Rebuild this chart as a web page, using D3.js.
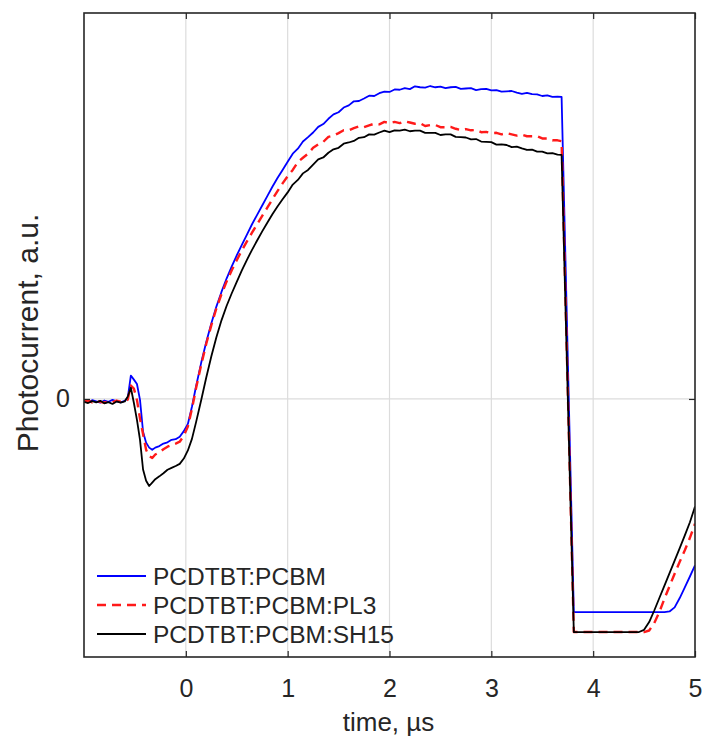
<!DOCTYPE html>
<html>
<head>
<meta charset="utf-8">
<script src="https://cdn.jsdelivr.net/npm/d3@7"></script>
<style>
  body { margin: 0; background: #fff; }
  svg { display: block; }
  text { font-family: "Liberation Sans", Arial, Helvetica, sans-serif; fill: #262626; }
</style>
</head>
<body>
<svg id="chart" width="705" height="745"></svg>
<script>
// Sample times (µs), shared by the three traces
const time = [
  -1.00,-0.96,-0.92,-0.88,-0.84,-0.80,-0.76,-0.72,-0.68,-0.64,-0.60,
  -0.57,-0.54,-0.51,-0.48,-0.45,-0.42,-0.39,-0.36,-0.33,-0.30,
  -0.26,-0.22,-0.18,-0.14,-0.10,-0.06,-0.02,
  0.02,0.06,0.10,0.15,0.20,0.25,0.30,0.35,0.40,0.45,0.50,0.55,0.60,0.65,0.70,0.75,0.80,0.85,0.90,0.95,1.00,
  1.05,1.10,1.15,1.20,1.25,1.30,1.35,1.40,1.45,1.50,
  1.55,1.60,1.65,1.70,1.75,1.80,1.85,1.90,1.95,2.00,
  2.05,2.10,2.15,2.20,2.25,2.30,2.35,2.40,2.45,2.50,
  2.55,2.60,2.65,2.70,2.75,2.80,2.85,2.90,2.95,3.00,
  3.05,3.10,3.15,3.20,3.25,3.30,3.35,3.40,3.45,3.50,
  3.55,3.60,3.65,
  3.69,3.81,
  3.90,4.00,4.10,4.20,4.30,4.40,
  4.45,4.50,4.55,4.60,4.65,4.70,4.75,4.80,4.85,4.90,4.95,5.00
];

// Photocurrent, a.u.
const pcbm = [
  -0.006,-0.010,-0.004,-0.008,-0.012,-0.005,-0.009,-0.003,-0.008,-0.011,-0.006,
  0.004,0.075,0.062,0.048,-0.003,-0.105,-0.140,-0.156,-0.163,-0.156,
  -0.151,-0.143,-0.139,-0.131,-0.129,-0.121,-0.103,
  -0.080,-0.025,0.040,0.115,0.182,0.242,0.296,0.343,0.386,0.424,0.460,0.494,0.527,0.560,0.590,0.620,0.650,0.680,0.708,0.734,0.760,
  0.786,0.802,0.825,0.839,0.854,0.872,0.881,0.898,0.912,0.919,
  0.934,0.941,0.954,0.955,0.963,0.972,0.971,0.980,0.985,0.984,
  0.992,0.991,0.996,0.993,1.002,0.999,0.998,1.003,0.999,1.001,
  0.996,0.999,1.000,0.994,0.995,0.996,0.990,0.993,0.994,0.989,
  0.990,0.985,0.986,0.987,0.982,0.978,0.981,0.977,0.976,0.971,
  0.973,0.968,0.969,
  0.968,-0.683,
  -0.683,-0.683,-0.683,-0.683,-0.683,-0.683,
  -0.683,-0.683,-0.683,-0.683,-0.683,-0.683,-0.681,-0.668,-0.638,-0.604,-0.569,-0.533
];

const pl3 = [
  -0.008,-0.005,-0.011,-0.006,-0.009,-0.012,-0.007,-0.010,-0.005,-0.009,-0.007,
  -0.002,0.043,0.033,-0.003,-0.063,-0.113,-0.163,-0.183,-0.189,-0.178,
  -0.171,-0.161,-0.153,-0.148,-0.143,-0.137,-0.118,
  -0.088,-0.032,0.034,0.108,0.176,0.236,0.290,0.336,0.376,0.412,0.445,0.476,0.505,0.533,0.560,0.587,0.613,0.640,0.666,0.691,0.714,
  0.734,0.759,0.773,0.786,0.805,0.816,0.824,0.840,0.844,0.852,
  0.861,0.861,0.868,0.874,0.871,0.877,0.882,0.880,0.888,0.884,
  0.888,0.884,0.890,0.886,0.882,0.884,0.875,0.878,0.878,0.871,
  0.871,0.872,0.866,0.862,0.865,0.861,0.862,0.855,0.856,0.852,
  0.853,0.848,0.852,0.848,0.844,0.847,0.842,0.842,0.842,0.835,
  0.835,0.829,0.829,
  0.826,-0.747,
  -0.747,-0.747,-0.747,-0.747,-0.747,-0.747,
  -0.747,-0.747,-0.742,-0.718,-0.683,-0.640,-0.600,-0.560,-0.522,-0.485,-0.445,-0.400
];

const sh15 = [
  -0.009,-0.013,-0.007,-0.011,-0.006,-0.014,-0.010,-0.016,-0.008,-0.012,-0.008,
  0.008,0.036,-0.013,-0.067,-0.131,-0.226,-0.262,-0.279,-0.268,-0.257,
  -0.248,-0.238,-0.227,-0.221,-0.215,-0.208,-0.191,
  -0.165,-0.128,-0.075,-0.005,0.068,0.136,0.198,0.252,0.298,0.338,0.375,0.412,0.446,0.478,0.508,0.537,0.565,0.592,0.617,0.640,0.662,
  0.687,0.702,0.723,0.734,0.751,0.768,0.774,0.789,0.800,0.805,
  0.818,0.822,0.827,0.837,0.839,0.848,0.847,0.854,0.860,0.855,
  0.861,0.860,0.863,0.858,0.860,0.860,0.853,0.853,0.853,0.846,
  0.848,0.848,0.840,0.839,0.838,0.832,0.833,0.825,0.824,0.823,
  0.815,0.816,0.814,0.807,0.809,0.803,0.798,0.799,0.793,0.793,
  0.787,0.788,0.783,
  0.782,-0.747,
  -0.747,-0.747,-0.747,-0.747,-0.747,-0.747,
  -0.747,-0.740,-0.715,-0.678,-0.638,-0.598,-0.558,-0.518,-0.478,-0.437,-0.395,-0.345
];

const seriesNames = ["PCDTBT:PCBM", "PCDTBT:PCBM:PL3", "PCDTBT:PCBM:SH15"];
const xTicks = [0, 1, 2, 3, 4, 5];
const yTicks = [0];
const xTitle = "time, \u00b5s";
const yTitle = "Photocurrent, a.u.";

const series = [
  { name: seriesNames[0], values: pcbm, color: "#0000ff", dash: null,  width: 1.8 },
  { name: seriesNames[1], values: pl3,  color: "#ff1a1a", dash: "9,6", width: 2.4 },
  { name: seriesNames[2], values: sh15, color: "#000000", dash: null,  width: 1.8 }
];

const plot = { left: 84, right: 695, top: 13, bottom: 657 };

const x = d3.scaleLinear().domain([-1, 5]).range([plot.left, plot.right]);
const y = d3.scaleLinear().domain([-0.827, 1.237]).range([plot.bottom, plot.top]);

const svg = d3.select("#chart");

svg.append("defs").append("clipPath").attr("id", "plot-clip")
  .append("rect")
  .attr("x", plot.left).attr("y", plot.top)
  .attr("width", plot.right - plot.left).attr("height", plot.bottom - plot.top);

// grid
const grid = svg.append("g").attr("stroke", "#dcdcdc").attr("stroke-width", 1.2);
grid.selectAll("line.gx").data(xTicks.filter(t => x(t) < plot.right - 1)).join("line")
  .attr("x1", d => x(d)).attr("x2", d => x(d))
  .attr("y1", plot.top).attr("y2", plot.bottom);
grid.selectAll("line.gy").data(yTicks).join("line")
  .attr("x1", plot.left).attr("x2", plot.right)
  .attr("y1", d => y(d)).attr("y2", d => y(d));

// traces
const line = d3.line().x(d => x(d[0])).y(d => y(d[1]));
const traces = svg.append("g").attr("clip-path", "url(#plot-clip)");
series.forEach(s => {
  traces.append("path")
    .datum(d3.zip(time, s.values))
    .attr("fill", "none")
    .attr("stroke", s.color)
    .attr("stroke-width", s.width)
    .attr("stroke-dasharray", s.dash)
    .attr("stroke-linejoin", "round")
    .attr("d", line);
});

// axes (inward ticks, no domain path; box drawn separately)
const tickLen = 6;
const axisColor = "#262626";
const bottomAxis = svg.append("g")
  .attr("transform", `translate(0,${plot.bottom})`)
  .call(d3.axisBottom(x).tickValues(xTicks).tickSize(-tickLen).tickPadding(22).tickFormat(d3.format("d")));
const topAxis = svg.append("g")
  .attr("transform", `translate(0,${plot.top})`)
  .call(d3.axisTop(x).tickValues(xTicks).tickSize(-tickLen).tickFormat(""));
const leftAxis = svg.append("g")
  .attr("transform", `translate(${plot.left},0)`)
  .call(d3.axisLeft(y).tickValues(yTicks).tickSize(-tickLen).tickPadding(14).tickFormat(d3.format("d")));
const rightAxis = svg.append("g")
  .attr("transform", `translate(${plot.right},0)`)
  .call(d3.axisRight(y).tickValues(yTicks).tickSize(-tickLen).tickFormat(""));

[bottomAxis, topAxis, leftAxis, rightAxis].forEach(g => {
  g.select(".domain").remove();
  g.selectAll(".tick line").attr("stroke", axisColor).attr("stroke-width", 1.2);
  g.selectAll(".tick text").attr("fill", axisColor).style("font-size", "25px")
    .style("font-family", "'Liberation Sans', Arial, sans-serif");
});

// box
svg.append("rect")
  .attr("x", plot.left).attr("y", plot.top)
  .attr("width", plot.right - plot.left).attr("height", plot.bottom - plot.top)
  .attr("fill", "none").attr("stroke", axisColor).attr("stroke-width", 1.6);

// axis titles
svg.append("text")
  .attr("x", (plot.left + plot.right) / 2 - 1)
  .attr("y", 731)
  .attr("text-anchor", "middle")
  .style("font-size", "26px")
  .text(xTitle);

svg.append("text")
  .attr("transform", `translate(38,333) rotate(-90)`)
  .attr("text-anchor", "middle")
  .style("font-size", "30px")
  .text(yTitle);

// legend
const legend = svg.append("g");
const rowY = [576, 605, 634];
series.forEach((s, i) => {
  legend.append("line")
    .attr("x1", 97).attr("x2", 146)
    .attr("y1", rowY[i]).attr("y2", rowY[i])
    .attr("stroke", s.color)
    .attr("stroke-width", s.width)
    .attr("stroke-dasharray", s.dash);
  legend.append("text")
    .attr("x", 153)
    .attr("y", rowY[i] + 9)
    .style("font-size", "24.5px")
    .attr("fill", "#000")
    .text(s.name);
});
</script>
</body>
</html>
